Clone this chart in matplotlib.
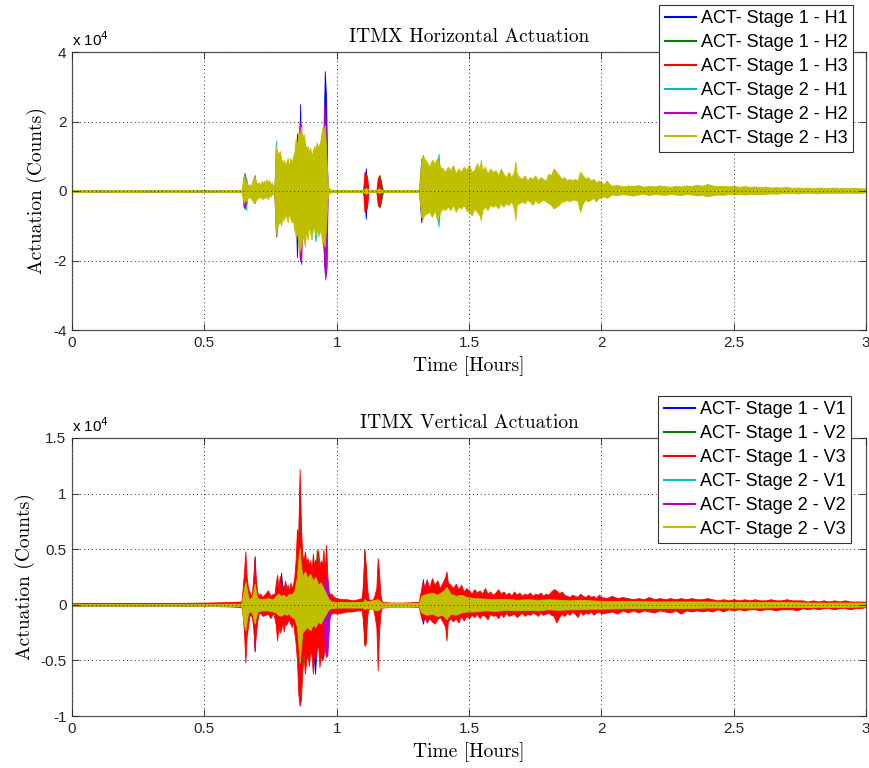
import matplotlib
matplotlib.use('Agg')
import matplotlib.pyplot as plt
from matplotlib.lines import Line2D
from matplotlib.ticker import FuncFormatter, MultipleLocator

plt.rcParams['axes.unicode_minus'] = False
plt.rcParams['font.family'] = ['Liberation Sans', 'DejaVu Sans']

# ---------------- horizontal actuation (counts), max / min per time bin ----------------
# Stage 2 - H3 (yellow, drawn on top)
t_h_s2h3 = [0.00, 0.10, 0.20, 0.30, 0.40, 0.50, 0.60, 0.640,
            0.645, 0.650, 0.655, 0.660, 0.665, 0.670, 0.675, 0.680, 0.685, 0.690,
            0.695, 0.700, 0.705, 0.710, 0.715, 0.720, 0.725, 0.730, 0.735, 0.740,
            0.745, 0.750, 0.755, 0.760, 0.765,
            0.770, 0.775, 0.780, 0.785, 0.790, 0.795, 0.800, 0.805, 0.810, 0.815,
            0.820, 0.825, 0.830, 0.835, 0.840, 0.845, 0.850, 0.855, 0.860, 0.865,
            0.870, 0.875, 0.880, 0.885, 0.890, 0.895, 0.900, 0.905, 0.910, 0.915,
            0.920, 0.925, 0.930, 0.935, 0.940, 0.945, 0.950, 0.955, 0.960, 0.965,
            0.970, 0.980, 0.990,
            1.000, 1.050, 1.100, 1.105, 1.110, 1.115, 1.120, 1.155, 1.160, 1.165, 1.170, 1.250, 1.310,
            1.320, 1.325, 1.330, 1.340, 1.350, 1.360, 1.370, 1.380, 1.390, 1.400,
            1.410, 1.420, 1.430, 1.440, 1.450, 1.460, 1.470, 1.480, 1.490, 1.500,
            1.510, 1.520, 1.530, 1.540, 1.545, 1.550, 1.560, 1.570, 1.580, 1.590,
            1.600, 1.610, 1.620, 1.630, 1.640, 1.650, 1.660, 1.670, 1.675, 1.680,
            1.690, 1.700, 1.710, 1.720, 1.730, 1.740, 1.750, 1.760, 1.770, 1.780,
            1.790, 1.800, 1.810, 1.820, 1.830, 1.840, 1.850, 1.860, 1.870, 1.880,
            1.890, 1.900, 1.910, 1.920, 1.930, 1.940, 1.950, 1.960, 1.970, 1.980,
            1.990, 2.000, 2.010, 2.020, 2.030,
            2.04, 2.06, 2.08, 2.10, 2.12, 2.14, 2.16, 2.18, 2.20, 2.22,
            2.24, 2.26, 2.28, 2.30, 2.32, 2.34, 2.36, 2.38, 2.40, 2.42,
            2.44, 2.46, 2.48, 2.50, 2.52, 2.54, 2.56, 2.58, 2.60, 2.62,
            2.64, 2.66, 2.68, 2.70, 2.72, 2.74, 2.76, 2.78, 2.80, 2.82,
            2.84, 2.86, 2.88, 2.90, 2.92, 2.94, 2.96, 2.98, 3.00]
hi_h_s2h3 = [250, 200, 250, 200, 250, 200, 250, 250,
             2500, 4600, 3000, 2200, 1500, 2000, 1200, 2500, 3800, 4200,
             2800, 2000, 2500, 1500, 2800, 2200, 3000, 2300, 3400, 2600,
             3200, 2000, 2400, 1500, 800,
             13000, 11500, 10500, 11500, 9500, 8000, 9000, 7500, 8500, 9500,
             7000, 9500, 8000, 10000, 11000, 15000, 13000, 17000, 16000, 18500,
             15000, 16500, 14000, 12000, 13000, 11000, 12500, 10000, 11500, 13000,
             12000, 14000, 12500, 13500, 15000, 18000, 17000, 19000, 12000, 3000,
             800, 400, 300,
             250, 250, 250, 600, 900, 700, 300, 400, 800, 500, 250, 250, 250,
             9000, 10500, 9500, 8500, 7000, 9000, 8000, 9500, 7000, 6500,
             5500, 7000, 6000, 7500, 5000, 6500, 5500, 7000, 6000, 7500,
             5500, 6000, 8000, 6500, 9000, 6000, 7000, 5000, 6500, 5500,
             6000, 4500, 6500, 5000, 4000, 5500, 4000, 5500, 8500, 5000,
             4000, 3500, 4500, 3000, 4000, 3500, 4500, 3000, 4000, 3500,
             3000, 5000, 4500, 6500, 5500, 4500, 3500, 4000, 3000, 3500,
             3000, 3500, 3000, 5500, 4500, 3500, 4000, 3000, 3500, 2500,
             3000, 2500, 2000, 3000, 2000,
             1500, 1800, 1300, 1600, 1400, 1700, 1200, 1500, 1300, 1600,
             1400, 1200, 1500, 1300, 1600, 1400, 1800, 1500, 2000, 1600,
             1400, 1500, 1300, 1500, 1200, 1400, 1200, 1300, 1100, 1300,
             1000, 1100, 1000, 1200, 900, 1000, 900, 1000, 800, 1000,
             900, 800, 1000, 800, 900, 800, 900, 800, 700]
lo_h_s2h3 = [-250, -200, -250, -200, -250, -200, -250, -250,
             -2000, -3500, -2500, -3000, -1500, -2000, -1800, -2600, -3300, -3500,
             -2600, -2200, -1800, -2000, -1500, -2400, -1700, -2100, -1600, -2300,
             -1400, -1600, -1000, -800, -600,
             -12000, -10500, -9500, -8500, -10000, -7500, -8500, -7000, -7500, -9000,
             -6000, -8000, -9000, -8500, -11000, -13000, -12000, -15000, -17500, -16000,
             -13000, -14000, -16000, -11000, -14000, -10000, -12000, -14000, -11000, -10000,
             -12500, -11000, -13000, -12000, -11500, -15000, -14500, -16000, -10000, -2500,
             -600, -300, -250,
             -250, -250, -250, -500, -800, -700, -300, -300, -700, -400, -250, -250, -250,
             -7500, -8000, -7000, -6500, -6000, -7500, -5500, -8500, -6000, -5000,
             -5500, -4500, -5500, -4000, -6000, -4500, -5000, -4000, -5500, -6000,
             -7000, -5000, -6000, -7000, -8500, -5500, -4500, -5500, -4000, -4500,
             -4000, -5000, -3500, -4500, -3500, -4000, -3000, -5000, -8300, -4000,
             -3500, -3000, -3500, -2500, -3000, -4000, -2500, -3500, -3000, -2500,
             -3000, -3500, -4000, -5000, -4500, -4000, -3000, -3000, -2500, -3000,
             -2500, -2500, -2800, -6000, -3500, -2500, -3000, -2500, -2000, -3000,
             -2000, -1800, -1500, -2000, -1500,
             -1000, -1200, -900, -1100, -1300, -1000, -800, -1200, -900, -1000,
             -1100, -900, -1000, -1200, -900, -1000, -1300, -1100, -1500, -1200,
             -1000, -1100, -900, -1000, -800, -1000, -900, -800, -900, -800,
             -700, -800, -600, -700, -600, -700, -600, -500, -600, -700,
             -500, -600, -500, -600, -500, -500, -600, -500, -400]

# Stage 1 - H1 (blue)
t_h_s1h1 = [0.00, 0.840, 0.845, 0.850, 0.855, 0.858, 0.862, 0.866, 0.870,
            0.940, 0.945, 0.950, 0.955, 0.960, 0.965, 0.970,
            1.100, 1.105, 1.110, 1.115, 1.120,
            1.312, 1.316, 1.320, 1.324, 1.330, 3.00]
hi_h_s1h1 = [100, 100, 5000, 16500, 8000, 10000, 25000, 6000, 100,
             100, 6000, 12000, 34500, 27000, 1500, 100,
             100, 2000, 6500, 2000, 100,
             100, 5000, 9300, 5000, 100, 100]
lo_h_s1h1 = [-100, -100, -5000, -19000, -9000, -8000, -20000, -6000, -100,
             -100, -6000, -15000, -23500, -24000, -1500, -100,
             -100, -2000, -8000, -2000, -100,
             -100, -5000, -9000, -5000, -100, -100]

# Stage 1 - H2 (green)
t_h_s1h2 = [0.00, 0.850, 0.855, 0.860, 0.865, 0.870,
            1.150, 1.155, 1.162, 1.168, 1.175,
            1.314, 1.318, 1.322, 1.326, 1.330, 3.00]
hi_h_s1h2 = [100, 100, 8000, 14000, 9000, 100,
             100, 1000, 4600, 2500, 100,
             100, 3000, 8000, 3000, 100, 100]
lo_h_s1h2 = [-100, -100, -8000, -10000, -9000, -100,
             -100, -1000, -4800, -3000, -100,
             -100, -3000, -7000, -3000, -100, -100]

# Stage 1 - H3 (red)
t_h_s1h3 = [0.00, 0.764, 0.768, 0.772, 0.776, 0.780,
            0.944, 0.948, 0.952, 0.956, 0.960,
            1.100, 1.105, 1.110, 1.115, 1.120,
            1.150, 1.155, 1.160, 1.165, 1.170, 3.00]
hi_h_s1h3 = [100, 100, 6000, 10000, 6000, 100,
             100, 12000, 19500, 12000, 100,
             100, 5500, 5000, 4000, 100,
             100, 3500, 4500, 3000, 100, 100]
lo_h_s1h3 = [-100, -100, -8000, -13200, -8000, -100,
             -100, -12000, -16000, -10000, -100,
             -100, -6000, -5500, -4500, -100,
             -100, -4000, -4500, -3500, -100, -100]

# Stage 2 - H1 (cyan)
t_h_s2h1 = [0.00, 0.648, 0.652, 0.657, 0.662, 0.666,
            0.762, 0.766, 0.770, 0.774, 0.778,
            0.910, 0.915, 0.920, 0.925, 0.930,
            1.376, 1.380, 1.385, 1.390, 1.394, 3.00]
hi_h_s2h1 = [100, 100, 3000, 4000, 2000, 100,
             100, 2000, 14500, 9000, 100,
             100, 9000, 12000, 9000, 100,
             100, 7000, 10700, 5000, 100, 100]
lo_h_s2h1 = [-100, -100, -4000, -5500, -2000, -100,
             -100, -2000, -12500, -9000, -100,
             -100, -10000, -14500, -10000, -100,
             -100, -6000, -10200, -5000, -100, -100]

# Stage 2 - H2 (magenta)
t_h_s2h2 = [0.00, 0.644, 0.648, 0.652, 0.658, 0.662,
            0.682, 0.686, 0.690, 0.694, 0.698,
            0.850, 0.855, 0.860, 0.866, 0.870, 0.874,
            0.944, 0.948, 0.952, 0.957, 0.962, 0.966, 0.970, 3.00]
hi_h_s2h2 = [100, 100, 4000, 5200, 2000, 100,
             100, 2500, 4600, 2000, 100,
             100, 10000, 20000, 19000, 8000, 100,
             100, 10000, 24500, 22000, 10000, 1500, 100, 100]
lo_h_s2h2 = [-100, -100, -4500, -5000, -3000, -100,
             -100, -2500, -3500, -2000, -100,
             -100, -10000, -19000, -21000, -10000, -100,
             -100, -10000, -20000, -25500, -22000, -1500, -100, -100]

# ---------------- vertical actuation (counts) ----------------
# Stage 1 - V3 (red, largest)
t_v_s1v3 = [0.00, 0.30, 0.50, 0.60, 0.640,
            0.645, 0.650, 0.655, 0.660, 0.665, 0.670, 0.675, 0.680, 0.685, 0.690,
            0.695, 0.700, 0.705, 0.710, 0.720, 0.730, 0.740, 0.750, 0.760, 0.765,
            0.770, 0.775, 0.780, 0.785, 0.790, 0.795, 0.800, 0.805, 0.810, 0.815,
            0.820, 0.825, 0.830, 0.835, 0.840, 0.845, 0.850, 0.855, 0.860, 0.865,
            0.870, 0.875, 0.880, 0.885, 0.890, 0.895, 0.900, 0.905, 0.910, 0.915,
            0.920, 0.925, 0.930, 0.935, 0.940, 0.945, 0.950, 0.955, 0.960, 0.965,
            0.970, 0.975, 0.980, 0.990, 1.000, 1.020, 1.040, 1.060, 1.080, 1.095,
            1.100, 1.105, 1.110, 1.115, 1.120, 1.130, 1.140, 1.150, 1.155, 1.160,
            1.165, 1.170, 1.200, 1.250, 1.310,
            1.320, 1.325, 1.330, 1.340, 1.350, 1.360, 1.370, 1.380, 1.390, 1.400,
            1.410, 1.415, 1.420, 1.430, 1.440, 1.450, 1.460, 1.470, 1.480, 1.490,
            1.500, 1.510, 1.520, 1.530, 1.540, 1.550, 1.560, 1.570, 1.580, 1.590,
            1.600, 1.610, 1.620, 1.630, 1.640, 1.650, 1.660, 1.670, 1.680, 1.690,
            1.700, 1.710, 1.720, 1.730, 1.740, 1.750, 1.760, 1.770, 1.780, 1.790,
            1.800, 1.810, 1.820, 1.830, 1.840, 1.850, 1.860, 1.870, 1.880, 1.890,
            1.900, 1.910, 1.920, 1.930, 1.940, 1.950, 1.960, 1.970, 1.980, 1.990,
            2.00, 2.02, 2.04, 2.06, 2.08, 2.10, 2.12, 2.14, 2.16, 2.18,
            2.20, 2.22, 2.24, 2.26, 2.28, 2.30, 2.32, 2.34, 2.36, 2.38,
            2.40, 2.42, 2.44, 2.46, 2.48, 2.50, 2.52, 2.54, 2.56, 2.58,
            2.60, 2.62, 2.64, 2.66, 2.68, 2.70, 2.72, 2.74, 2.76, 2.78,
            2.80, 2.82, 2.84, 2.86, 2.88, 2.90, 2.92, 2.94, 2.96, 2.98, 3.00]
hi_v_s1v3 = [150, 150, 200, 250, 300,
             1500, 3000, 4800, 2500, 1500, 1200, 800, 1000, 2500, 4400,
             2000, 1200, 800, 1000, 700, 1000, 1300, 800, 1000, 900,
             2000, 2700, 1500, 2600, 1200, 1800, 1500, 2200, 1500, 1800,
             1200, 2000, 1500, 1800, 2500, 4000, 6800, 6000, 12200, 7000,
             4500, 4000, 4800, 3800, 4200, 3500, 4000, 3000, 4600, 3500,
             4000, 3000, 4900, 3500, 4000, 3500, 5000, 3000, 5400, 2500,
             1200, 900, 1000, 700, 600, 500, 500, 400, 500, 600,
             2000, 4900, 3500, 1500, 500, 400, 600, 1500, 4200, 3000,
             1000, 300, 200, 200, 250,
             1500, 2100, 1500, 2300, 1500, 2400, 1800, 2200, 1500, 2000,
             2500, 3000, 2000, 1800, 1500, 1900, 1400, 1800, 1200, 1500,
             1300, 1000, 1400, 1100, 1300, 1000, 1500, 1000, 1200, 900,
             1100, 1400, 1000, 1200, 900, 1100, 800, 1200, 900, 1100,
             800, 1000, 900, 1100, 800, 1000, 900, 1100, 800, 1000,
             900, 1200, 1400, 1300, 1000, 1200, 900, 800, 700, 900,
             800, 700, 1000, 800, 700, 900, 700, 800, 600, 900,
             700, 600, 800, 600, 700, 600, 500, 600, 500, 700,
             500, 600, 500, 600, 500, 600, 500, 600, 500, 500,
             600, 500, 400, 500, 400, 500, 400, 500, 400, 500,
             400, 400, 500, 400, 400, 500, 400, 400, 400, 300,
             400, 300, 400, 300, 400, 300, 400, 300, 300, 300, 300]
lo_v_s1v3 = [-100, -100, -100, -150, -200,
             -1000, -2500, -5200, -2800, -2000, -1000, -900, -1200, -2000, -4100,
             -2500, -1500, -800, -700, -1000, -900, -800, -1200, -700, -1200,
             -1800, -3200, -2000, -2500, -2200, -1500, -2400, -1600, -1800, -1500,
             -1300, -1700, -2000, -1400, -2500, -3500, -5000, -8000, -9100, -8500,
             -6000, -4500, -6200, -5000, -4500, -5500, -4200, -4500, -6200, -4000,
             -4800, -4000, -3500, -5600, -4500, -5000, -4700, -3500, -3000, -2000,
             -1200, -1000, -800, -700, -800, -700, -600, -600, -500, -500,
             -1500, -3700, -3500, -1000, -400, -300, -500, -2000, -5900, -2500,
             -800, -250, -200, -150, -200,
             -1200, -1500, -1000, -1600, -1200, -1500, -1700, -1300, -1100, -1500,
             -2000, -3200, -1500, -1200, -1500, -1200, -1600, -1000, -1400, -1000,
             -1200, -900, -1100, -800, -1200, -900, -1000, -1300, -800, -1000,
             -900, -1200, -800, -1100, -700, -1000, -900, -800, -1100, -900,
             -700, -1000, -800, -900, -700, -800, -1000, -700, -900, -800,
             -700, -900, -1000, -1600, -1100, -800, -1000, -700, -900, -600,
             -800, -1100, -600, -900, -700, -800, -600, -900, -700, -600,
             -800, -700, -600, -800, -500, -700, -500, -700, -500, -600,
             -700, -500, -600, -700, -500, -800, -500, -600, -500, -600,
             -500, -600, -400, -600, -400, -500, -400, -500, -400, -400,
             -500, -400, -400, -500, -400, -400, -400, -500, -300, -400,
             -300, -400, -300, -300, -400, -300, -300, -400, -300, -300, -200]

# Stage 2 - V3 (yellow, drawn on top)
t_v_s2v3 = [0.00, 0.30, 0.640,
            0.645, 0.650, 0.655, 0.660, 0.665, 0.670, 0.680, 0.685, 0.690, 0.695,
            0.700, 0.720, 0.740, 0.760, 0.770, 0.780, 0.790, 0.800, 0.810, 0.820,
            0.830, 0.840, 0.850, 0.855, 0.860, 0.865, 0.870, 0.880, 0.890, 0.900,
            0.910, 0.920, 0.930, 0.940, 0.950, 0.960, 0.970, 0.980,
            1.000, 1.100, 1.105, 1.115, 1.155, 1.170, 1.310,
            1.320, 1.340, 1.360, 1.380, 1.400, 1.415, 1.430, 1.450, 1.470, 1.490,
            1.52, 1.56, 1.60, 1.64, 1.68, 1.72, 1.76, 1.80, 1.84, 1.88,
            1.92, 1.96, 2.00, 2.10, 2.20, 2.30, 2.40, 2.50, 2.60, 2.70,
            2.80, 2.90, 3.00]
hi_v_s2v3 = [80, 80, 100,
             800, 1500, 2100, 1500, 800, 500, 700, 1200, 1900, 1200,
             600, 500, 600, 500, 800, 1000, 800, 900, 700, 1000,
             900, 1300, 2500, 4000, 5100, 3500, 2600, 3000, 2400, 2800,
             2200, 2500, 1800, 2000, 1500, 1000, 500, 300,
             250, 250, 500, 300, 500, 200, 150,
             800, 1000, 1100, 900, 1200, 1600, 1000, 800, 900, 700,
             600, 550, 500, 550, 450, 500, 450, 500, 450, 400,
             450, 400, 350, 350, 300, 300, 300, 250, 250, 250,
             200, 200, 200]
lo_v_s2v3 = [-80, -80, -100,
             -1000, -1800, -2300, -1500, -800, -600, -700, -1200, -1700, -1100,
             -600, -500, -500, -600, -700, -900, -1000, -800, -900, -800,
             -1100, -1200, -2000, -3500, -5200, -3800, -2500, -2200, -2000, -2300,
             -1800, -2000, -1500, -1700, -1200, -800, -400, -300,
             -250, -250, -400, -300, -500, -200, -150,
             -700, -900, -800, -1000, -900, -1300, -800, -900, -700, -600,
             -600, -500, -550, -450, -500, -450, -500, -400, -450, -400,
             -400, -350, -350, -300, -300, -300, -250, -250, -250, -200,
             -200, -200, -150]

# Stage 1 - V1 (blue)
t_v_s1v1 = [0.00, 0.682, 0.686, 0.690, 0.694, 0.698,
            0.781, 0.785, 0.790, 0.795, 0.799,
            0.908, 0.912, 0.918, 0.924, 0.928,
            1.318, 1.322, 1.326, 1.330, 1.334, 3.00]
hi_v_s1v1 = [100, 100, 2000, 4300, 2000, 100,
             100, 1500, 2900, 1500, 100,
             100, 3000, 4000, 3000, 100,
             100, 1500, 2300, 1500, 100, 100]
lo_v_s1v1 = [-100, -100, -2000, -4200, -2000, -100,
             -100, -1500, -2000, -1500, -100,
             -100, -4000, -6200, -4000, -100,
             -100, -1200, -1700, -1200, -100, -100]

# Stage 1 - V2 (green)
t_v_s1v2 = [0.00, 0.851, 0.855, 0.860, 0.865, 0.869,
            0.916, 0.920, 0.925, 0.930, 0.934,
            1.096, 1.100, 1.105, 1.110, 1.114, 3.00]
hi_v_s1v2 = [100, 100, 6000, 10600, 6000, 100,
             100, 3000, 5000, 3000, 100,
             100, 2000, 5000, 3000, 100, 100]
lo_v_s1v2 = [-100, -100, -5000, -8000, -5000, -100,
             -100, -3000, -3000, -3000, -100,
             -100, -1500, -3500, -3000, -100, -100]

# Stage 2 - V1 (cyan)
t_v_s2v1 = [0.00, 0.851, 0.855, 0.860, 0.865, 0.869, 3.00]
hi_v_s2v1 = [80, 80, 1000, 3000, 1000, 80, 80]
lo_v_s2v1 = [-80, -80, -1000, -3000, -1000, -80, -80]

# Stage 2 - V2 (magenta)
t_v_s2v2 = [0.00, 0.946, 0.950, 0.955, 0.960, 0.965, 0.970, 0.975, 0.979, 3.00]
hi_v_s2v2 = [80, 80, 1500, 2000, 2500, 1800, 1000, 300, 80, 80]
lo_v_s2v2 = [-80, -80, -1500, -4000, -4700, -4500, -2500, -600, -80, -80]

labels_h = ['ACT- Stage 1 - H1', 'ACT- Stage 1 - H2', 'ACT- Stage 1 - H3',
            'ACT- Stage 2 - H1', 'ACT- Stage 2 - H2', 'ACT- Stage 2 - H3']
labels_v = ['ACT- Stage 1 - V1', 'ACT- Stage 1 - V2', 'ACT- Stage 1 - V3',
            'ACT- Stage 2 - V1', 'ACT- Stage 2 - V2', 'ACT- Stage 2 - V3']

# matlab default line colours b g r c m y
colors = ['#0000ff', '#008000', '#ff0000', '#00bfbf', '#bf00bf', '#bfbf00']

series_h = [(t_h_s1h1, hi_h_s1h1, lo_h_s1h1), (t_h_s1h2, hi_h_s1h2, lo_h_s1h2),
            (t_h_s1h3, hi_h_s1h3, lo_h_s1h3), (t_h_s2h1, hi_h_s2h1, lo_h_s2h1),
            (t_h_s2h2, hi_h_s2h2, lo_h_s2h2), (t_h_s2h3, hi_h_s2h3, lo_h_s2h3)]
series_v = [(t_v_s1v1, hi_v_s1v1, lo_v_s1v1), (t_v_s1v2, hi_v_s1v2, lo_v_s1v2),
            (t_v_s1v3, hi_v_s1v3, lo_v_s1v3), (t_v_s2v1, hi_v_s2v1, lo_v_s2v1),
            (t_v_s2v2, hi_v_s2v2, lo_v_s2v2), (t_v_s2v3, hi_v_s2v3, lo_v_s2v3)]

W, H = 870, 768
fig = plt.figure(figsize=(W / 100, H / 100), dpi=100)
ax1 = fig.add_axes([72 / W, 1 - 330 / H, 794 / W, 278 / H])
ax2 = fig.add_axes([72 / W, 1 - 716 / H, 794 / W, 278 / H])


def draw_panel(ax, series, labels, ylim, ystep, title, anchor):
    for (t, hi, lo), c in zip(series, colors):
        ax.fill_between(t, lo, hi, color=c, lw=0.6)
    ax.set_xlim(0, 3)
    ax.set_ylim(*ylim)
    ax.xaxis.set_major_locator(MultipleLocator(0.5))
    ax.yaxis.set_major_locator(MultipleLocator(ystep))
    ax.xaxis.set_major_formatter(FuncFormatter(lambda v, p: '%g' % v))
    ax.yaxis.set_major_formatter(FuncFormatter(lambda v, p: '%g' % (v / 1e4)))
    ax.tick_params(direction='in', top=True, right=True, length=5, width=0.6,
                   labelsize=11, colors='#262626', pad=4)
    for s in ax.spines.values():
        s.set_color('#555555')
        s.set_linewidth(0.9)
    ax.grid(True, color='#333333', linestyle=(0, (1, 3)), linewidth=0.7)
    ax.set_axisbelow(False)
    ax.set_title(title, fontfamily='cmr10', fontsize=14, pad=7)
    ax.set_xlabel('Time [Hours]', fontfamily='cmr10', fontsize=14, labelpad=5)
    ax.set_ylabel('Actuation (Counts)', fontfamily='cmr10', fontsize=14, labelpad=4)
    ax.text(0.0, 1.012, r'x 10$^{4}$', transform=ax.transAxes, ha='left',
            va='bottom', fontsize=11)
    handles = [Line2D([], [], color=c, lw=1.5) for c in colors]
    leg = ax.legend(handles, labels, loc='upper right', bbox_to_anchor=anchor,
                    bbox_transform=fig.transFigure, fontsize=13, frameon=True,
                    fancybox=False, framealpha=1, edgecolor='#333333',
                    handlelength=1.7, handletextpad=0.3, labelspacing=0.38,
                    borderpad=0.3, borderaxespad=0)
    leg.get_frame().set_linewidth(0.8)


draw_panel(ax1, series_h, labels_h, (-40000, 40000), 20000,
           'ITMX Horizontal Actuation', (853 / W, 1 - 5 / H))
draw_panel(ax2, series_v, labels_v, (-10000, 15000), 5000,
           'ITMX Vertical Actuation', (851 / W, 1 - 396 / H))

fig.savefig('out.png', dpi=100)
